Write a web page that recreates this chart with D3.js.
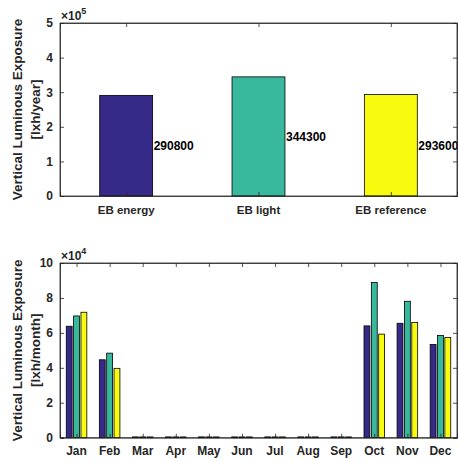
<!DOCTYPE html>
<html>
<head>
<meta charset="utf-8">
<script src="https://cdn.jsdelivr.net/npm/d3@7"></script>
<style>
  body { margin: 0; background: #fff; }
  text { font-family: "Liberation Sans", Arial, Helvetica, sans-serif; font-weight: bold; fill: #262626; }
  .bar { stroke: #000; stroke-width: 0.8; }
</style>
</head>
<body>
<svg width="458" height="461"></svg>
<script>
// yearly totals
var cases = ["EB energy", "EB light", "EB reference"];
var yearly = [290800, 344300, 293600];
var yearTicks = [0, 1, 2, 3, 4, 5];

// monthly values per case
var months = ["Jan","Feb","Mar","Apr","May","Jun","Jul","Aug","Sep","Oct","Nov","Dec"];
var monthEnergy = [63800, 44600, 0, 0, 0, 0, 0, 0, 0, 64000, 65500, 53400];
var monthLight = [69700, 48400, 0, 0, 0, 0, 0, 0, 0, 88800, 78100, 58500];
var monthRef = [71800, 39700, 0, 0, 0, 0, 0, 0, 0, 59300, 65900, 57400];
var monthTicks = [0, 2, 4, 6, 8, 10];

var colors = ["#352a87", "#38b99e", "#f9fb0e"];

var svg = d3.select("svg");
var left = 60, right = 457;
var axisCol = "#262626";

function drawBox(g, x, y, top, bottom, xt, yt) {
  // mirrored ticks, MATLAB box style
  g.append("g").attr("transform", "translate(0," + bottom + ")")
    .call(d3.axisBottom(x).tickValues(xt).tickSize(-4).tickFormat(""));
  g.append("g").attr("transform", "translate(0," + top + ")")
    .call(d3.axisTop(x).tickValues(xt).tickSize(-4).tickFormat(""));
  g.append("g").attr("transform", "translate(" + left + ",0)")
    .call(d3.axisLeft(y).tickValues(yt).tickSize(-4).tickFormat(""));
  g.append("g").attr("transform", "translate(" + right + ",0)")
    .call(d3.axisRight(y).tickValues(yt).tickSize(-4).tickFormat(""));
  g.selectAll(".domain, .tick line").attr("stroke", axisCol).attr("stroke-width", 0.8);
  g.append("rect").attr("x", left).attr("y", top)
    .attr("width", right - left).attr("height", bottom - top)
    .attr("fill", "none").attr("stroke", axisCol).attr("stroke-width", 0.8);
}

function yLabels(g, y, ticks) {
  g.selectAll(".ylab").data(ticks).enter().append("text")
    .attr("x", 53).attr("y", function(d) { return y(d); })
    .attr("dy", "0.36em").attr("text-anchor", "end")
    .style("font-size", "12px").text(function(d) { return d; });
}

function expLabel(g, top, p) {
  var t = g.append("text").attr("x", 61).attr("y", top - 3).style("font-size", "12px");
  t.append("tspan").text("×10");
  t.append("tspan").attr("dy", -6).style("font-size", "9px").text(p);
}

function yTitle(g, cy, unit) {
  g.append("text").attr("transform", "translate(22," + cy + ") rotate(-90)")
    .attr("text-anchor", "middle").style("font-size", "13.5px").text("Vertical Luminous Exposure");
  g.append("text").attr("transform", "translate(40," + cy + ") rotate(-90)")
    .attr("text-anchor", "middle").style("font-size", "13.5px").text(unit);
}

// ---- top panel ----
var t1 = 23, b1 = 196;
var x1 = d3.scaleLinear().domain([0.5, 3.5]).range([left, right]);
var y1 = d3.scaleLinear().domain([0, 5e5]).range([b1, t1]);
var g1 = svg.append("g");

g1.selectAll(".bar").data(yearly).enter().append("rect")
  .attr("class", "bar")
  .attr("x", function(d, i) { return x1(i + 1 - 0.2); })
  .attr("width", x1(1.4) - x1(1))
  .attr("y", function(d) { return y1(d); })
  .attr("height", function(d) { return b1 - y1(d); })
  .attr("fill", function(d, i) { return colors[i]; });

g1.selectAll(".val").data(yearly).enter().append("text")
  .attr("x", function(d, i) { return x1(i + 1 + 0.2) + 1; })
  .attr("y", function(d) { return y1(d / 2); })
  .attr("dy", "0.36em").style("font-size", "12px").style("fill", "#000")
  .text(function(d) { return d; });

drawBox(g1, x1, y1, t1, b1, [1, 2, 3], yearTicks.map(function(d) { return d * 1e5; }));
yLabels(g1, function(d) { return y1(d * 1e5); }, yearTicks);
g1.selectAll(".xl").data(cases).enter().append("text")
  .attr("x", function(d, i) { return x1(i + 1); }).attr("y", 214)
  .attr("text-anchor", "middle").style("font-size", "11.5px").text(function(d) { return d; });
expLabel(g1, t1, "5");
yTitle(g1, (t1 + b1) / 2, "[lxh/year]");

// ---- bottom panel ----
var t2 = 263, b2 = 437.7;
var x2 = d3.scaleLinear().domain([0.5, 12.5]).range([left, right]);
var y2 = d3.scaleLinear().domain([0, 1e5]).range([b2, t2]);
var g2 = svg.append("g");
var series = [monthEnergy, monthLight, monthRef];
var step = 2 / 9, bw = step * 0.8;

series.forEach(function(s, k) {
  g2.selectAll(".s" + k).data(s).enter().append("rect")
    .attr("class", "bar")
    .attr("x", function(d, i) { return x2(i + 1 + (k - 1) * step - bw / 2); })
    .attr("width", x2(1 + bw) - x2(1))
    .attr("y", function(d) { return Math.min(y2(d), b2 - 0.8); })
    .attr("height", function(d) { return Math.max(b2 - y2(d), 0.8); })
    .attr("fill", colors[k]);
});

drawBox(g2, x2, y2, t2, b2, d3.range(1, 13), monthTicks.map(function(d) { return d * 1e4; }));
yLabels(g2, function(d) { return y2(d * 1e4); }, monthTicks);
g2.selectAll(".xl").data(months).enter().append("text")
  .attr("x", function(d, i) { return x2(i + 1); }).attr("y", 455)
  .attr("text-anchor", "middle").style("font-size", "12px").text(function(d) { return d; });
expLabel(g2, t2, "4");
yTitle(g2, (t2 + b2) / 2, "[lxh/month]");
</script>
</body>
</html>
